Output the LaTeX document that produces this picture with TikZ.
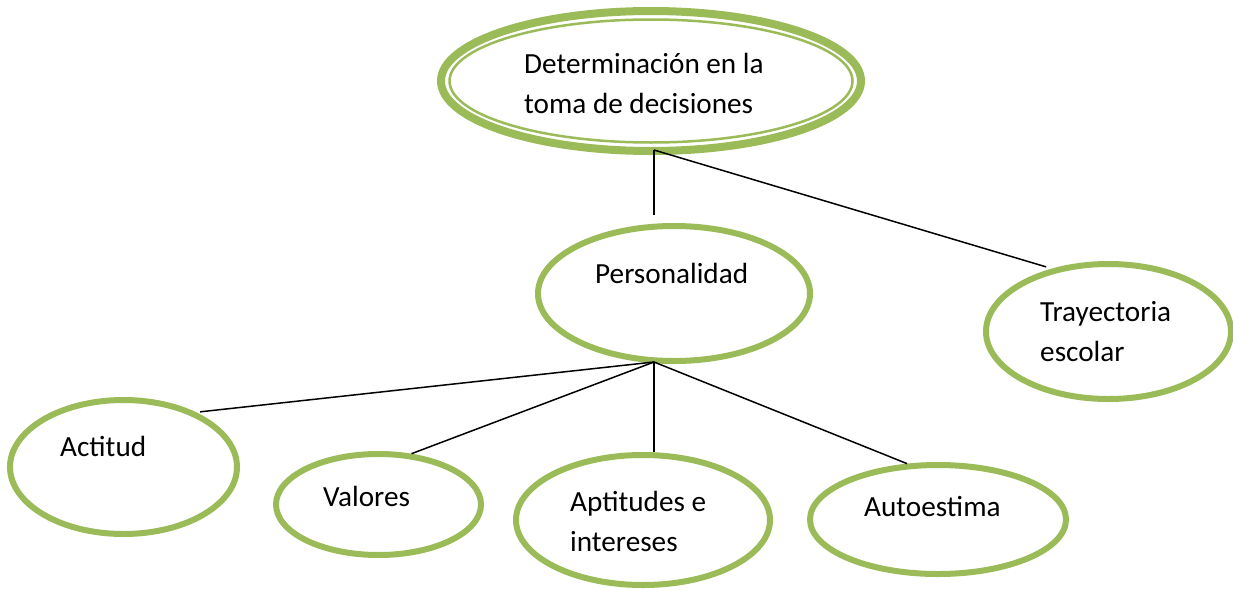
\documentclass[tikz,border=0pt]{standalone}
\usepackage{fontspec}
\setmainfont{Carlito}
\usetikzlibrary{shapes.geometric}
\definecolor{olivegreen}{HTML}{9BBB59}
\begin{document}
\begin{tikzpicture}[x=1pt,y=-1pt,
  bub/.style={ellipse, draw=olivegreen, line width=6pt, inner sep=0pt},
  lbl/.style={anchor=base west, inner sep=0pt, align=left,
    font=\fontsize{29.2}{39.5}\selectfont},
  conn/.style={draw=black, line width=1.5pt}]
\useasboundingbox (0,0) rectangle (1233,589);
% ellipses
\node[bub, line width=8pt, minimum width=420pt, minimum height=140pt] (top) at (651,81) {};
\node[bub, line width=2.5pt, minimum width=403pt, minimum height=123pt] (topin) at (651,81) {};
\node[bub, minimum width=272pt, minimum height=135pt] (pers) at (674,293.5) {};
\node[bub, minimum width=245pt, minimum height=135pt] (tray) at (1108.5,331.5) {};
\node[bub, minimum width=227pt, minimum height=134pt] (act) at (123.5,467) {};
\node[bub, minimum width=205pt, minimum height=101pt] (val) at (378.5,504.5) {};
\node[bub, minimum width=254pt, minimum height=130pt] (apt) at (643,520) {};
\node[bub, minimum width=256pt, minimum height=109pt] (auto) at (938,519.5) {};
% labels (base anchor = baseline of the last line)
\node[lbl] (ttop) at (524,113) {Determinación en la\\toma de decisiones};
\node[lbl] (tpers) at (595,283) {Personalidad};
\node[lbl] (ttray) at (1040,361) {Trayectoria\\escolar};
\node[lbl] (tact) at (60,456) {Actitud};
\node[lbl] (tval) at (323,506) {Valores};
\node[lbl] (tapt) at (570,551) {Aptitudes e\\intereses};
\node[lbl] (tauto) at (864,516) {Autoestima};
% connectors
\coordinate (jt) at (654,150);
\coordinate (jp) at (654,362);
\draw[conn, shorten >=8pt] (jt) -- (jt |- pers.north);
\draw[conn, shorten >=6pt] (jt) -- (tray.132);
\draw[conn, shorten >=4pt] (jp) -- (act.37);
\draw[conn] (jp) -- (val.57);
\draw[conn] (jp) -- (jp |- apt.north);
\draw[conn] (jp) -- (auto.119.5);
\end{tikzpicture}
\end{document}
